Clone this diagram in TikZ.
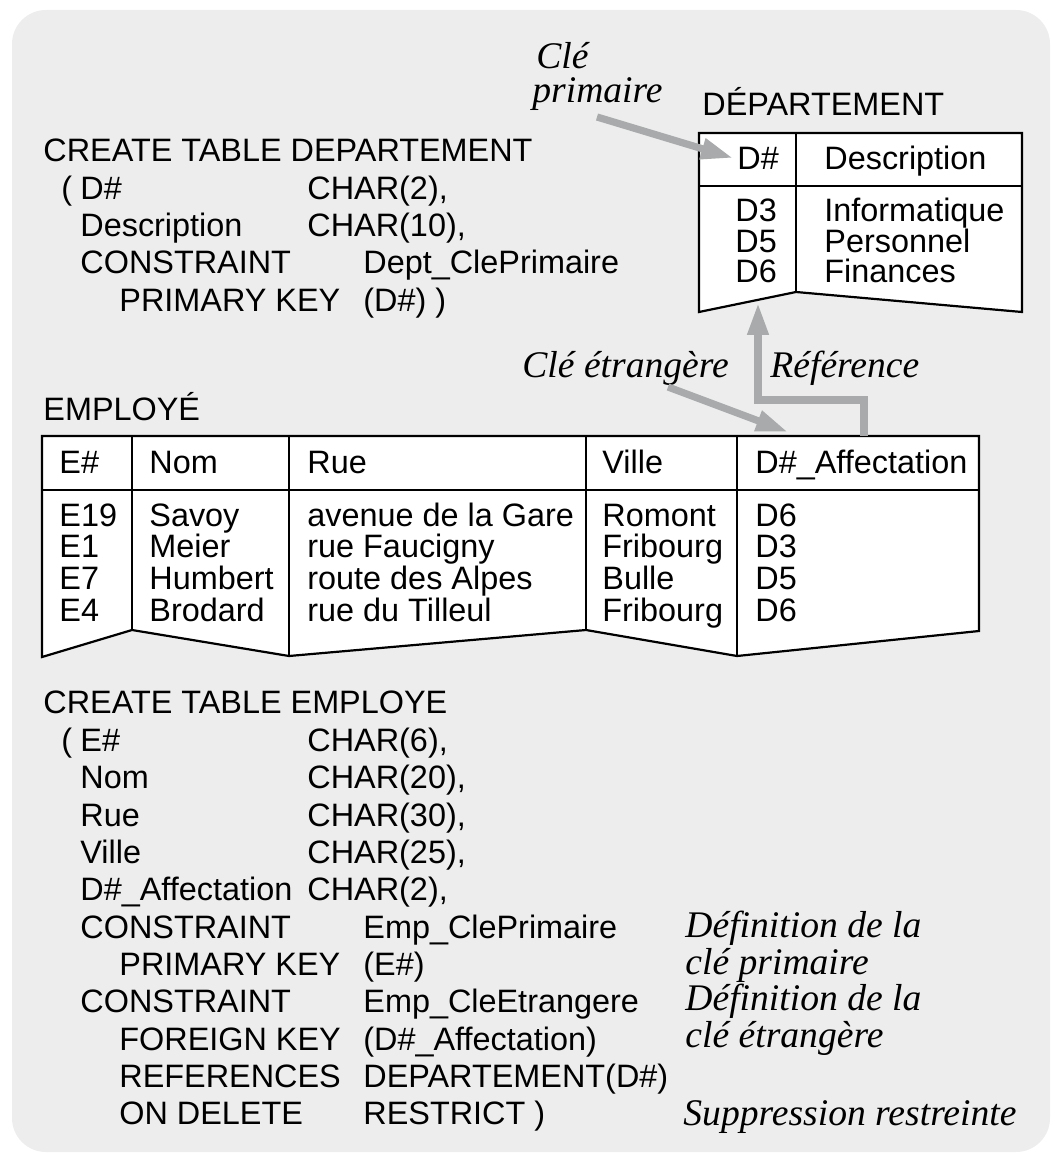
\documentclass[tikz,border=0pt]{standalone}
\usepackage{fontspec}
\setmainfont{Liberation Serif}
\setsansfont{Liberation Sans}
\usetikzlibrary{arrows.meta}
\definecolor{bg}{HTML}{ECEDEC}
\definecolor{arr}{HTML}{A8AAAC}
\tikzset{
  txt/.style={anchor=base west, inner sep=0pt, font=\sffamily\fontsize{16.2}{19}\selectfont},
  note/.style={anchor=base west, inner sep=0pt, font=\rmfamily\itshape\fontsize{18.8}{22}\selectfont},
  tbl/.style={draw=black, line width=1.1pt, fill=white, line join=miter},
  tline/.style={draw=black, line width=1.1pt},
  ptr/.style={draw=arr, line width=3.6pt, line join=miter, -{Triangle[length=16pt,width=10pt]}},
}
\begin{document}
\begin{tikzpicture}[x=0.5pt,y=-0.5pt]
\useasboundingbox (0,0) rectangle (1054,1154);
\fill[bg, rounded corners=17pt] (12,10) rectangle (1050,1152);

% ---------- SQL DEPARTEMENT ----------
\node[txt] (s1) at (43,162) {CREATE TABLE DEPARTEMENT};
\node[txt] (s2a) at (61,200) {(};
\node[txt] (s2b) at (80,200) {D\#};
\node[txt] (s2c) at (307,200) {CHAR(2),};
\node[txt] (s3b) at (80,237) {Description};
\node[txt] (s3c) at (307,237) {CHAR(10),};
\node[txt] (s4b) at (80,274) {CONSTRAINT};
\node[txt] (s4c) at (363,274) {Dept\_ClePrimaire};
\node[txt] (s5b) at (119,312) {PRIMARY KEY};
\node[txt] (s5c) at (363,312) {(D\#) )};

% ---------- table DEPARTEMENT ----------
\node[txt] (dtitle) at (702,116) {DÉPARTEMENT};
\path[tbl] (699,133) -- (1022,133) -- (1022,312) -- (796,292) -- (699,312) -- cycle;
\draw[tline] (699,186) -- (1022,186);
\draw[tline] (796,133) -- (796,292);
\node[txt] (dh1) at (737,170) {D\#};
\node[txt] (dh2) at (824,170) {Description};
\foreach \a/\b [count=\i] in {D3/Informatique,D5/Personnel,D6/Finances}{
  \node[txt] (dk\i) at (735,{222+(\i-1)*30.5}) {\a};
  \node[txt] (dd\i) at (824,{222+(\i-1)*30.5}) {\b};
}

% ---------- table EMPLOYE ----------
\node[txt] (etitle) at (43,420) {EMPLOYÉ};
\path[tbl] (42,436) -- (979,436) -- (979,631) -- (737,656) -- (586,630) -- (289,656) -- (132,630) -- (42,657) -- cycle;
\draw[tline] (42,490) -- (979,490);
\draw[tline] (132,436) -- (132,630);
\draw[tline] (289,436) -- (289,656);
\draw[tline] (586,436) -- (586,630);
\draw[tline] (737,436) -- (737,656);
\node[txt] (eh1) at (59,473) {E\#};
\node[txt] (eh2) at (149,473) {Nom};
\node[txt] (eh3) at (307,473) {Rue};
\node[txt] (eh4) at (602,473) {Ville};
\node[txt] (eh5) at (755,473) {D\#\_Affectation};
\foreach \a/\b/\c/\d/\e [count=\i] in {E19/Savoy/avenue de la Gare/Romont/D6,E1/Meier/rue Faucigny/Fribourg/D3,E7/Humbert/route des Alpes/Bulle/D5,E4/Brodard/rue du Tilleul/Fribourg/D6}{
  \node[txt] (ea\i) at (59,{526+(\i-1)*31.7}) {\a};
  \node[txt] (eb\i) at (149,{526+(\i-1)*31.7}) {\b};
  \node[txt] (ec\i) at (307,{526+(\i-1)*31.7}) {\c};
  \node[txt] (ed\i) at (602,{526+(\i-1)*31.7}) {\d};
  \node[txt] (ee\i) at (755,{526+(\i-1)*31.7}) {\e};
}

% ---------- SQL EMPLOYE ----------
\node[txt] (t1) at (43,713) {CREATE TABLE EMPLOYE};
\node[txt] (t2a) at (61,751) {(};
\node[txt] (t2b) at (80,751) {E\#};
\node[txt] (t2c) at (307,751) {CHAR(6),};
\node[txt] (t3b) at (80,788) {Nom};
\node[txt] (t3c) at (307,788) {CHAR(20),};
\node[txt] (t4b) at (80,826) {Rue};
\node[txt] (t4c) at (307,826) {CHAR(30),};
\node[txt] (t5b) at (80,863) {Ville};
\node[txt] (t5c) at (307,863) {CHAR(25),};
\node[txt] (t6b) at (80,900) {D\#\_Affectation};
\node[txt] (t6c) at (307,900) {CHAR(2),};
\node[txt] (t7b) at (80,938) {CONSTRAINT};
\node[txt] (t7c) at (363,938) {Emp\_ClePrimaire};
\node[txt] (t8b) at (119,975) {PRIMARY KEY};
\node[txt] (t8c) at (363,975) {(E\#)};
\node[txt] (t9b) at (80,1012) {CONSTRAINT};
\node[txt] (t9c) at (363,1012) {Emp\_CleEtrangere};
\node[txt] (t10b) at (119,1050) {FOREIGN KEY};
\node[txt] (t10c) at (363,1050) {(D\#\_Affectation)};
\node[txt] (t11b) at (119,1087) {REFERENCES};
\node[txt] (t11c) at (363,1087) {DEPARTEMENT(D\#)};
\node[txt] (t12b) at (119,1124) {ON DELETE};
\node[txt] (t12c) at (363,1124) {RESTRICT )};

% ---------- notes ----------
\node[note] (n1a) at (536,69) {Clé};
\node[note] (n1b) at (532,103) {primaire};
\node[note] (n2) at (522,378) {Clé étrangère};
\node[note] (n3) at (770,378) {Référence};
\node[note] (n4a) at (685,937) {Définition de la};
\node[note] (n4b) at (685,974) {clé primaire};
\node[note] (n5a) at (685,1010) {Définition de la};
\node[note] (n5b) at (685,1047) {clé étrangère};
\node[note] (n6) at (683,1125) {Suppression restreinte};

% ---------- arrows ----------
\coordinate (cpS) at (597,117);
\coordinate (cpT) at (733,158);
\coordinate (ceS) at (668,387);
\coordinate (ceT) at (788,432);
\coordinate (refS) at (864,436);
\coordinate (refT) at (758,303);
\draw[ptr] (cpS) -- (cpT);
\draw[ptr] (ceS) -- (ceT);
\draw[ptr] (refS) -- ++(0,-36) -| (refT);
\end{tikzpicture}
\end{document}
